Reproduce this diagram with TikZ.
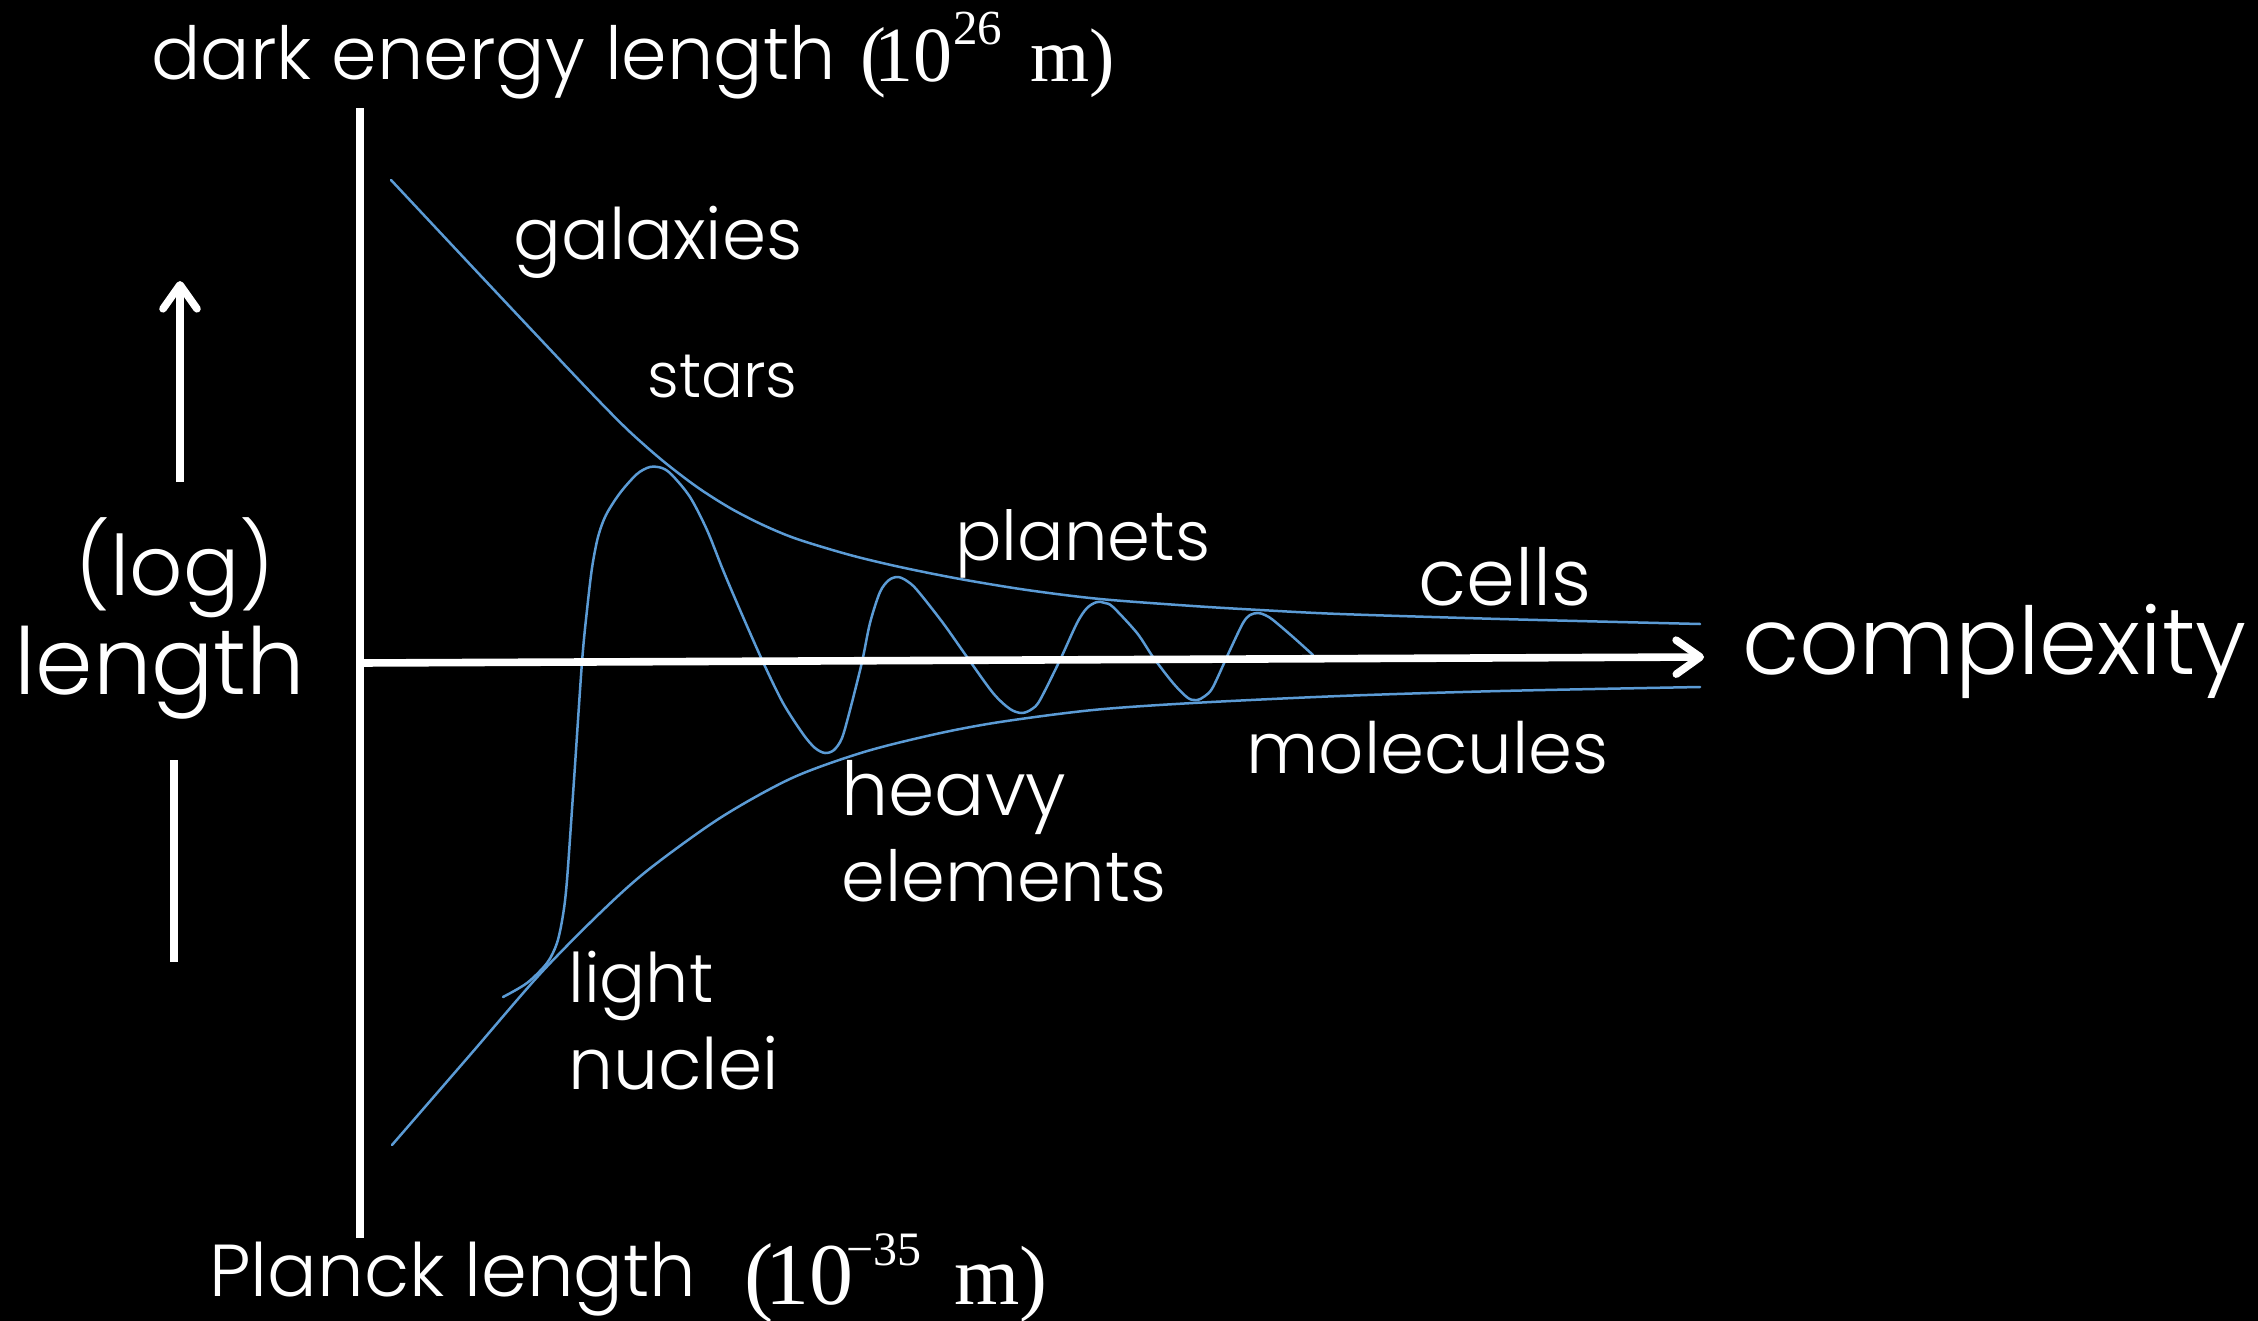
\documentclass[tikz,border=0pt]{standalone}
\usepackage{fontspec}
\setmainfont{Poppins Light}
\newfontfamily\tms{Liberation Serif}
\usetikzlibrary{arrows.meta}
\definecolor{curveblue}{RGB}{91,155,213}
\newcommand{\fsz}[1]{\fontsize{#1}{#1}\selectfont}
\newcommand{\fitw}[2]{\resizebox{#1pt}{!}{#2}}
\begin{document}
\begin{tikzpicture}[x=0.5pt,y=-0.5pt,
  lbl/.style={text=white, inner sep=0pt, anchor=base west, font=\fsz{30}},
  ser/.style={text=white, inner sep=0pt, anchor=base west},
  env/.style={draw=curveblue, line width=1.25pt, line join=round, line cap=round},
  axisline/.style={draw=white, line width=3.8pt},
  barb/.style={-{Straight Barb[length=12pt,width=17pt,round]}}
]
\useasboundingbox (0,0) rectangle (2258,1321);
\fill[black] (0,0) rectangle (2258,1321);

% envelopes
\draw[env] plot[smooth, tension=0.5] coordinates {(391,180) (480,275) (560,360) (600,402) (630,432) (663,461) (697,487) (730,508) (763,525) (797,539) (850,555) (900,567) (960,579) (1027,590) (1100,599) (1193,606) (1260,610) (1340,614) (1500,619) (1700,624)};
\draw[env] plot[smooth, tension=0.5] coordinates {(392,1145) (470,1055) (540,974) (600,913) (648,870) (720,818) (792,778) (864,752) (936,734) (1000,722) (1093,710) (1193,703) (1340,696) (1500,691) (1700,687)};
% oscillation
\draw[env] plot[smooth, tension=0.5] coordinates {(503,997) (527,983) (547,963) (557,943) (563,915) (567,880) (574,780) (582,662) (587,610) (592,568) (598,537) (606,515) (620,493) (637,474) (650,467) (662,468) (672,475) (690,497) (707,530) (723,570) (740,610) (763,662) (783,703) (803,734) (815,748) (825,753) (834,750) (842,738) (850,710) (862,662) (870,623) (880,592) (889,580) (898,577) (907,581) (917,590) (943,623) (967,657) (993,693) (1010,709) (1022,713) (1032,709) (1040,700) (1060,660) (1077,623) (1087,608) (1097,602) (1105,603) (1113,607) (1137,633) (1153,657) (1173,683) (1188,698) (1197,700) (1205,696) (1213,687) (1230,650) (1243,623) (1250,615) (1258,613) (1265,615) (1273,620) (1293,637) (1313,655)};

% axes
\coordinate (vtop) at (360,108);
\coordinate (vbot) at (360,1238);
\coordinate (hl) at (360,663);
\coordinate (hr) at (1704,657);
\draw[axisline] (vbot) -- (vtop);
\draw[axisline, barb] (hl) -- (hr);

% left arrow
\coordinate (ua0) at (180,482);
\coordinate (ua1) at (180,281);
\draw[axisline, barb] (ua0) -- (ua1);
\coordinate (la0) at (174,760);
\coordinate (la1) at (174,962);
\draw[axisline] (la0) -- (la1);

% labels
\node[lbl] (log) at (75,595) {\fitw{99.5}{(log)}};
\node[lbl] (len) at (14,694) {\fitw{145.5}{length}};
\node[lbl] (cx) at (1742,674) {\fitw{252}{complexity}};

\node[lbl] (gal) at (513,260) {\fitw{144.5}{galaxies}};
\node[lbl] (sta) at (647,397) {\fitw{75}{stars}};
\node[lbl] (pla) at (955,560) {\fitw{127.5}{planets}};
\node[lbl] (cel) at (1418,605) {\fitw{86.5}{cells}};
\node[lbl] (mol) at (1246,773) {\fitw{181}{molecules}};
\node[lbl] (hea) at (841,815) {\fitw{112.5}{heavy}};
\node[lbl] (ele) at (841,901) {\fitw{162.5}{elements}};
\node[lbl] (lig) at (568,1002) {\fitw{72.5}{light}};
\node[lbl] (nuc) at (568,1089) {\fitw{105}{nuclei}};

% top and bottom
\node[lbl] (dark) at (151,80) {\fitw{342}{dark energy length}};
\node[ser, font=\tms\fsz{39}] (dk1) at (860,82) {(\kern-6pt10};
\node[ser, font=\tms\fsz{24.5}] (dk2) at (953,45) {26};
\node[ser, font=\tms\fsz{38}] (dk3) at (1030,82) {m)};

\node[lbl] (pl) at (209,1296) {\fitw{243.5}{Planck length}};
\node[ser, font=\tms\fsz{44}] (pl1) at (744,1304) {(\kern-4pt10};
\node[ser, font=\tms\fsz{24}] (pl2) at (846,1265) {\symbol{"2212}35};
\node[ser, font=\tms\fsz{42}] (pl3) at (954,1304) {m)};
\end{tikzpicture}
\end{document}
